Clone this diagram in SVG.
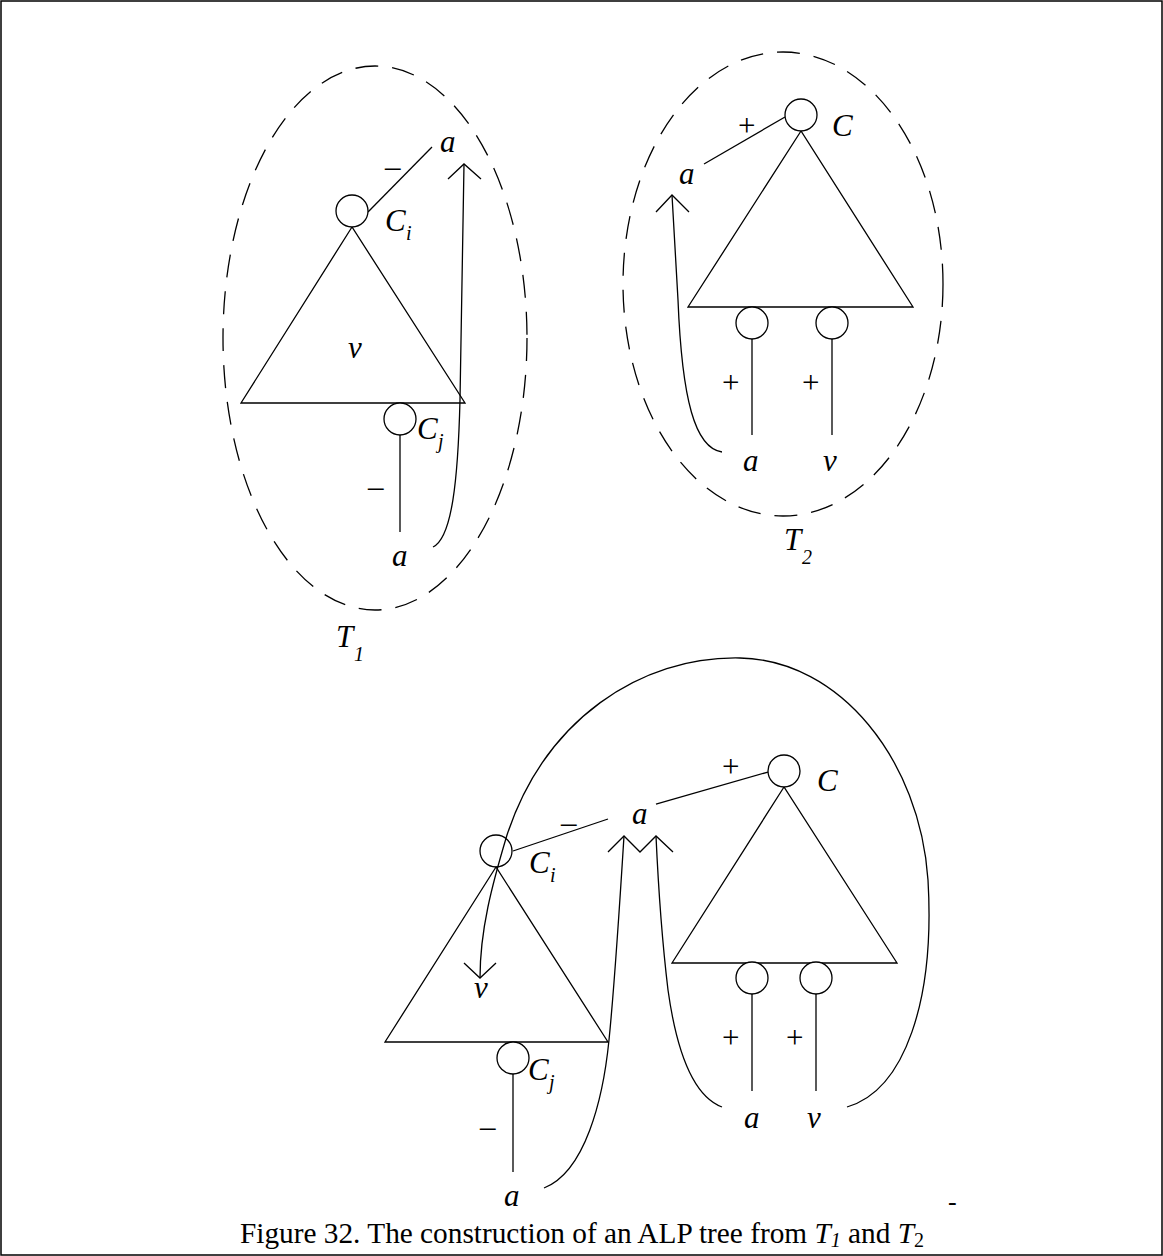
<svg xmlns="http://www.w3.org/2000/svg" width="1163" height="1256" viewBox="0 0 1163 1256">
<style>
.ln{fill:none;stroke:#000;stroke-width:1.3}
.dash{fill:none;stroke:#000;stroke-width:1.3;stroke-dasharray:23 14}
.nd{fill:#fff;stroke:#000;stroke-width:1.3}
.lb{font-family:"Liberation Serif","Times New Roman",serif;font-style:italic;font-size:31px;fill:#000}
.sb{font-family:"Liberation Serif","Times New Roman",serif;font-style:italic;font-size:20px;fill:#000}
.sg{font-family:"Liberation Serif","Times New Roman",serif;font-size:31px;fill:#000}
.cap{font-family:"Liberation Serif","Times New Roman",serif;font-size:29.3px;fill:#000}
</style>
<rect x="1" y="1" width="1161" height="1254" fill="#fff" stroke="#000" stroke-width="1.5"/>

<g id="T1">
  <ellipse class="dash" cx="375" cy="338" rx="152" ry="272"/>
  <g id="T1-connectors">
    <line class="ln" x1="368" y1="212" x2="432" y2="147"/>
    <polygon class="ln" points="352,227 241,403 465,403"/>
    <line class="ln" x1="400" y1="435" x2="400" y2="532"/>
    <path class="ln" d="M433,547 C452,538 458,480 460,400 L464,164"/>
    <polyline class="ln" points="448,179 464,164 481,179"/>
  </g>
  <g id="T1-Ci"><circle class="nd" cx="352" cy="211" r="16"/></g>
  <g id="T1-Cj"><circle class="nd" cx="400" cy="419" r="16"/></g>
  <text class="lb" x="440" y="152">a</text>
  <text class="sg" x="385" y="177">–</text>
  <text class="lb" x="385" y="231">C</text><text class="sb" x="406" y="240">i</text>
  <text class="lb" x="348" y="358">v</text>
  <text class="lb" x="417" y="439">C</text><text class="sb" x="438" y="448">j</text>
  <text class="sg" x="368" y="497">–</text>
  <text class="lb" x="392" y="566">a</text>
  <text class="lb" x="336" y="647">T</text><text class="sb" x="354" y="661">1</text>
</g>

<g id="T2">
  <ellipse class="dash" cx="783" cy="284" rx="160" ry="232"/>
  <g id="T2-connectors">
    <line class="ln" x1="785" y1="117" x2="704" y2="164"/>
    <polygon class="ln" points="801,131 688,307 913,307"/>
    <line class="ln" x1="752" y1="339" x2="752" y2="435"/>
    <line class="ln" x1="832" y1="339" x2="832" y2="435"/>
    <path class="ln" d="M722,452 C695,448 682,400 678,300 L672,195"/>
    <polyline class="ln" points="656,212 672,195 689,212"/>
  </g>
  <g id="T2-C"><circle class="nd" cx="801" cy="115" r="16"/></g>
  <g id="T2-L"><circle class="nd" cx="752" cy="323" r="16"/></g>
  <g id="T2-R"><circle class="nd" cx="832" cy="323" r="16"/></g>
  <text class="sg" x="738" y="136">+</text>
  <text class="lb" x="832" y="136">C</text>
  <text class="lb" x="679" y="184">a</text>
  <text class="sg" x="722" y="393">+</text>
  <text class="sg" x="802" y="393">+</text>
  <text class="lb" x="743" y="471">a</text>
  <text class="lb" x="823" y="471">v</text>
  <text class="lb" x="784" y="550">T</text><text class="sb" x="802" y="564">2</text>
</g>

<g id="ALP">
  <g id="ALP-connectors">
    <path class="ln" d="M847,1107 C905,1090 935,1000 928,880 C920,760 840,660 740,658 C640,656 545,720 507,835 C492,885 480,930 480,978"/>
    <polyline class="ln" points="464,963 480,978 496,963"/>
    <line class="ln" x1="513" y1="851" x2="608" y2="819"/>
    <line class="ln" x1="656" y1="804" x2="768" y2="772"/>
    <polygon class="ln" points="496,867 385,1042 608,1042"/>
    <line class="ln" x1="513" y1="1074" x2="513" y2="1172"/>
    <polygon class="ln" points="784,787 672,963 897,963"/>
    <line class="ln" x1="752" y1="994" x2="752" y2="1091"/>
    <line class="ln" x1="816" y1="994" x2="816" y2="1091"/>
    <path class="ln" d="M544,1188 C585,1172 603,1100 609,1040 C614,990 620,900 624,836"/>
    <path class="ln" d="M722,1107 C690,1095 675,1040 668,990 C662,940 658,880 656,836"/>
    <polyline class="ln" points="608,852 624,836 640,852 656,836 673,852"/>
  </g>
  <g id="ALP-Ci"><circle class="nd" cx="496" cy="851" r="16" fill-opacity="0"/></g>
  <g id="ALP-Cj"><circle class="nd" cx="513" cy="1058" r="16"/></g>
  <g id="ALP-C"><circle class="nd" cx="784" cy="771" r="16"/></g>
  <g id="ALP-L"><circle class="nd" cx="752" cy="978" r="16"/></g>
  <g id="ALP-R"><circle class="nd" cx="816" cy="978" r="16"/></g>
  <text class="sg" x="561" y="833">–</text>
  <text class="lb" x="632" y="824">a</text>
  <text class="sg" x="722" y="777">+</text>
  <text class="lb" x="817" y="791">C</text>
  <text class="lb" x="529" y="873">C</text><text class="sb" x="550" y="882">i</text>
  <text class="lb" x="474" y="998">v</text>
  <text class="lb" x="528" y="1080">C</text><text class="sb" x="549" y="1089">j</text>
  <text class="sg" x="480" y="1137">–</text>
  <text class="lb" x="504" y="1206">a</text>
  <text class="sg" x="722" y="1048">+</text>
  <text class="sg" x="786" y="1048">+</text>
  <text class="lb" x="744" y="1128">a</text>
  <text class="lb" x="807" y="1128">v</text>
  <text class="sg" x="948" y="1210" style="font-size:26px">-</text>
</g>

<text class="cap" x="240" y="1243">Figure 32. The construction of an ALP tree from <tspan font-style="italic">T</tspan><tspan font-style="italic" font-size="20" dy="4">1</tspan><tspan dy="-4"> and </tspan><tspan font-style="italic">T</tspan><tspan font-size="20" dy="4">2</tspan></text>
</svg>
